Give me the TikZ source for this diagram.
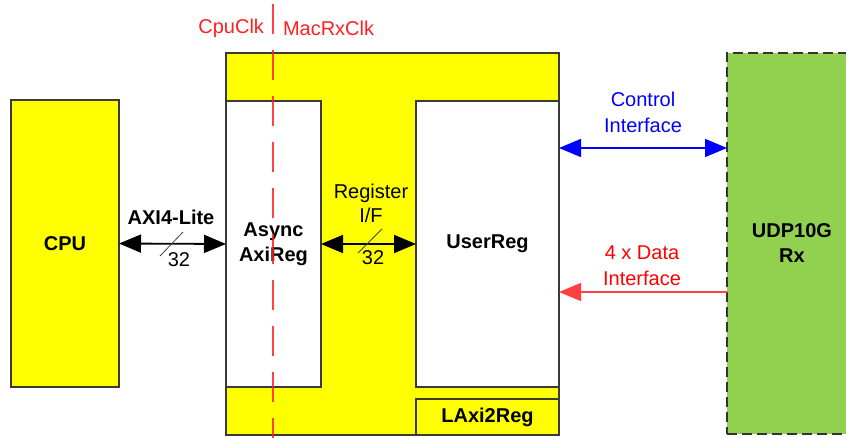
\documentclass[tikz,border=0pt]{standalone}
\usepackage{fontspec}
\setmainfont{Liberation Sans}
\usetikzlibrary{arrows.meta,calc}
\definecolor{boxyellow}{HTML}{FFFF00}
\definecolor{udpgreen}{HTML}{92D050}
\definecolor{edge}{HTML}{3A3A3A}
\definecolor{clkred}{HTML}{FF2020}
\definecolor{datared}{HTML}{FF0000}
\definecolor{ctlblue}{HTML}{0000FF}
\begin{document}
\begin{tikzpicture}[x=1pt,y=-1pt,
  every node/.style={font=\fontsize{20}{26}\selectfont, inner sep=0pt, outer sep=0pt},
  block/.style={draw=edge, line width=1.2pt, anchor=north west, align=center},
  yblock/.style={block, fill=boxyellow},
  wblock/.style={block, fill=white},
  bus/.style={line width=1.8pt, {Triangle[length=22pt,width=18pt]}-{Triangle[length=22pt,width=18pt]}},
  ctlbus/.style={draw=ctlblue, line width=1.6pt, {Triangle[length=22pt,width=18pt]}-{Triangle[length=22pt,width=18pt]}},
  databus/.style={draw=datared!75, line width=1.4pt, -{Triangle[length=22pt,width=18pt]}},
  slash/.style={draw=black!75, line width=0.8pt},
  clkline/.style={draw=clkred, opacity=0.85, line width=1.8pt, dash pattern=on 30pt off 16pt}
]
\useasboundingbox (0,0) rectangle (846,438);
\clip (0,0) rectangle (846,438);

% CPU
\node[yblock, minimum width=108pt, minimum height=287pt] (cpu) at (11,100) {\bfseries CPU};

% LAxi2Reg frame with its two inner blocks
\node[yblock, minimum width=333pt, minimum height=382pt] (lax) at (226,53) {};
\node[wblock, minimum width=95pt, minimum height=286pt] (async) at (226,101) {\bfseries Async\\[-1pt]\bfseries AxiReg};
\node[wblock, minimum width=143pt, minimum height=286pt] (user) at (416,101) {\bfseries UserReg};
\node[yblock, minimum width=143pt, minimum height=36pt] (laxlbl) at (416,399) {\bfseries LAxi2Reg};

% UDP10G Rx (runs on past the right edge)
\node[draw=black!80, fill=udpgreen, line width=2pt, dash pattern=on 10pt off 5pt,
      anchor=north west, minimum width=200pt, minimum height=381pt] (udp) at (727,53) {};
\node[align=center] (udplbl) at (792,243) {\bfseries UDP10G\\[-1pt]\bfseries Rx};

% clock domain boundary
\coordinate (clktop) at (273,4);
\coordinate (clkbot) at (273,438);
\draw[clkline] (clktop) -- (clkbot);
\node[text=clkred, anchor=east] (cpuclk) at (264,28) {CpuClk};
\node[text=clkred, anchor=west] (macclk) at (283,28) {MacRxClk};

% AXI4-Lite bus
\draw[bus] (cpu.east) -- (async.west);
\node (axilbl) at (171,217) {\bfseries AXI4-Lite};
\coordinate (s1a) at (160,256);
\coordinate (s1b) at (183,232);
\draw[slash] (s1a) -- (s1b);
\node (w1) at (179,260) {32};

% register interface
\draw[bus] (async.east) -- (user.west);
\node[align=center] (reglbl) at (371,203) {Register\\[-2pt]I/F};
\coordinate (s2a) at (358,253);
\coordinate (s2b) at (382,229);
\draw[slash] (s2a) -- (s2b);
\node (w2) at (373,258) {32};

% control interface
\coordinate (ctl) at (643,148);
\draw[ctlbus] (user.east |- ctl) -- (udp.west |- ctl);
\node[text=ctlblue, align=center] (ctllbl) at (643,112) {Control\\Interface};

% data interface
\coordinate (dat) at (643,292);
\draw[databus] (udp.west |- dat) -- (user.east |- dat);
\node[text=datared, align=center] (datlbl) at (642,266) {4 x Data\\Interface};
\end{tikzpicture}
\end{document}
